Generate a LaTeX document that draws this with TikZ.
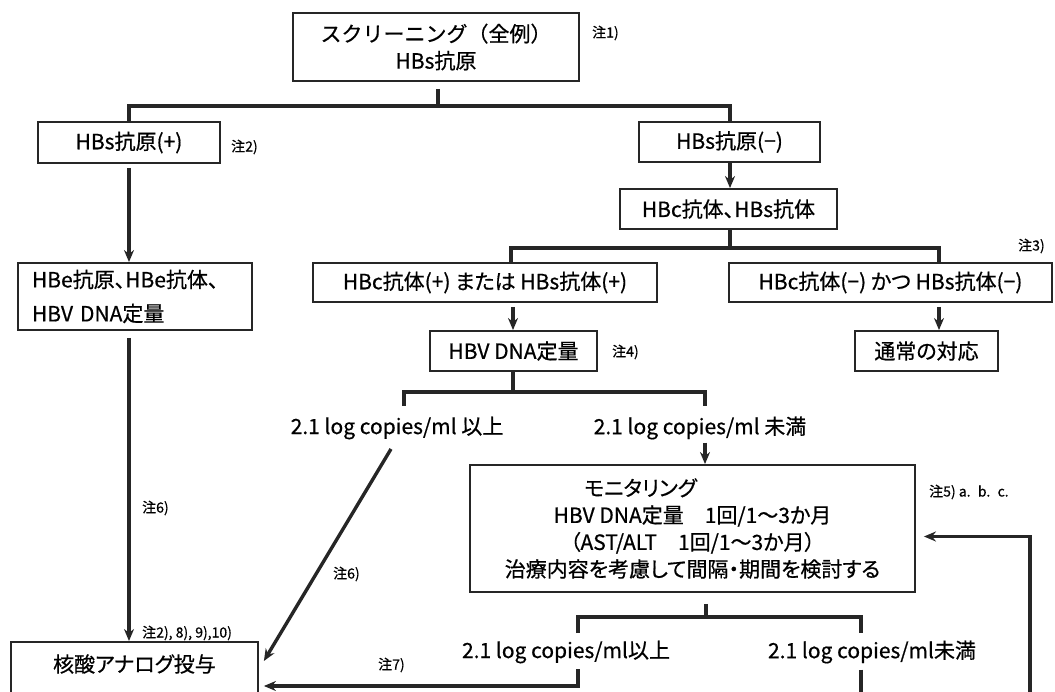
\documentclass[tikz,border=0pt]{standalone}
\usepackage{fontspec}
\setmainfont{Noto Sans CJK JP}[RawFeature=+palt, FakeBold=0.6]
\newfontfamily\plainjp{Noto Sans CJK JP}[FakeBold=0.6]
\usetikzlibrary{arrows.meta}
\begin{document}
\begin{tikzpicture}[x=1pt,y=-1pt,
  box/.style={draw=black!85, line width=1.9pt, fill=white, inner sep=0pt, align=center,
              font=\fontsize{21}{27}\selectfont},
  note/.style={font=\fontsize{14}{16}\selectfont, inner sep=0pt, anchor=west},
  lab/.style={font=\fontsize{21}{25}\selectfont, inner sep=0pt},
  conn/.style={draw=black!85, line width=3.4pt},
  arr/.style={draw=black!85, line width=3.4pt, -{Stealth[length=12pt,width=10pt,fill=black!55]}}]
\useasboundingbox (0,0) rectangle (1055,692);
\clip (0,0) rectangle (1055,692);
% boxes
\node[box, minimum width=286pt, minimum height=68pt] (top) at (436,47) {{\plainjp スクリーニング（全例）}\\HBs抗原};
\node[box, minimum width=182pt, minimum height=41pt] (hbsp) at (129,142.5) {HBs抗原(+)};
\node[box, minimum width=181pt, minimum height=40pt] (hbsm) at (729.5,142) {HBs抗原(−)};
\node[box, minimum width=217pt, minimum height=40pt] (hbc) at (728.5,209) {HBc抗体、HBs抗体};
\node[box, minimum height=67pt, text width=206pt, inner xsep=14pt, align=left,
      font=\fontsize{21}{34}\selectfont] (hbe) at (135,296.5) {HBe抗原、HBe抗体、\\HBV DNA定量};
\node[box, minimum width=344pt, minimum height=39pt] (pos) at (485,282.5) {HBc抗体(+) または HBs抗体(+)};
\node[box, minimum width=323pt, minimum height=39pt] (neg) at (890.5,282.5) {HBc抗体(−) かつ HBs抗体(−)};
\node[box, minimum width=167pt, minimum height=40pt] (dna) at (513.5,351) {HBV DNA定量};
\node[box, minimum width=143pt, minimum height=40pt] (usual) at (926.5,351) {通常の対応};
\node[box, minimum width=445pt, minimum height=127pt] (mon) at (692.5,528.5)
  {モニタリング\hspace*{104pt}\\HBV DNA定量　1回/1～3か月\\（AST/ALT　1回/1～3か月）\\治療内容を考慮して間隔・期間を検討する};
\node[box, anchor=north west, minimum width=247pt, minimum height=90pt] (kaku) at (10,641) {};
\node[lab] (kakut) at ([yshift=-23pt]kaku.north) {核酸アナログ投与};
% labels
\node[lab] (l1) at (397,428) {2.1 log copies/ml 以上};
\node[lab] (l2) at (700,428) {2.1 log copies/ml 未満};
\node[lab] (l3) at (566,652) {2.1 log copies/ml以上};
\node[lab] (l4) at (872,652) {2.1 log copies/ml未満};
% notes
\node[note] (n1) at (592,33) {注1)};
\node[note] (n2) at (231,147) {注2)};
\node[note] (n3) at (1018,246) {注3)};
\node[note] (n4) at (612,352) {注4)};
\node[note] (n5) at (929,492) {注5) a.~ b.~ c.};
\node[note] (n6a) at (142,508) {注6)};
\node[note] (n6b) at (333,574) {注6)};
\node[note] (n7) at (378,665) {注7)};
\node[note] (n8) at (142,633) {注2), 8), 9),10)};
% junction coordinates
\coordinate (b1) at (438,106);
\coordinate (b1l) at (129,106);
\coordinate (b1r) at (730,106);
\coordinate (b2l) at (511,248);
\coordinate (b2r) at (939,248);
\coordinate (b3c) at (513,392);
\coordinate (b3l) at (404,392);
\coordinate (b3r) at (705,392);
\coordinate (b4c) at (706,617);
\coordinate (b4l) at (578,617);
\coordinate (b4r) at (861,617);
\coordinate (d1) at (391,449);
\coordinate (loopb) at (1030,700);
% connectors
\draw[conn] ([yshift=-7pt]top.south -| b1) -- (b1);
\draw[conn] (b1l |- hbsp.north) -- (b1l) -- (b1r) -- (b1r |- hbsm.north);
\draw[arr] ([yshift=-4pt]hbsp.south) -- (hbe.north -| hbsp.south);
\draw[arr] (hbsm.south -| b1r) -- (hbc.north -| b1r);
\draw[conn] (hbc.south -| b1r) -- (b1r |- b2l);
\draw[conn] (b2l |- pos.north) -- (b2l) -- (b2r) -- (b2r |- neg.north);
\draw[arr] ([yshift=-4pt]pos.south -| b3c) -- (dna.north -| b3c);
\draw[arr] ([yshift=-4pt]neg.south -| b2r) -- (usual.north -| b2r);
\draw[conn] (dna.south -| b3c) -- (b3c);
\draw[conn] ([yshift=-14pt]b3l) -- (b3l) -- (b3r) -- ([yshift=-14pt]b3r);
\draw[arr] ([yshift=-3pt]l2.south -| b3r) -- (mon.north -| b3r);
\draw[arr] (d1) -- ([shift={(5pt,-20pt)}]kaku.north east);
\draw[arr] ([yshift=-7pt]hbe.south -| hbsp.south) -- (kaku.north -| hbsp.south);
\draw[conn] ([yshift=-11pt]mon.south -| b4c) -- (b4c);
\draw[conn] ([yshift=-16pt]b4l) -- (b4l) -- (b4r) -- ([yshift=-16pt]b4r);
\draw[arr] ([yshift=-6pt]l3.south -| b4l) |- ([shift={(5pt,-45pt)}]kaku.north east);
\draw[conn] ([yshift=-6pt]l4.south -| b4r) -- (b4r |- loopb);
\draw[arr] (loopb) |- ([shift={(8pt,-8pt)}]mon.east);
\end{tikzpicture}
\end{document}
